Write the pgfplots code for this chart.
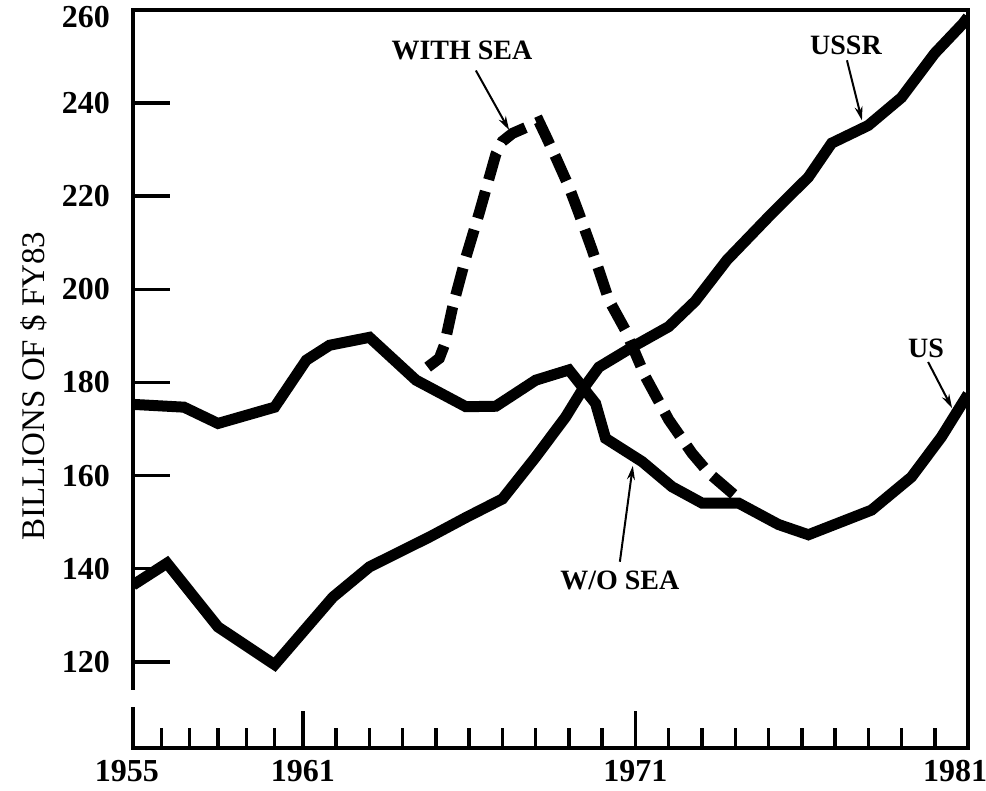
\documentclass[border=0pt]{standalone}
\usepackage{fontspec}
\setmainfont{Liberation Serif}
\usepackage{pgfplots}
\pgfplotsset{compat=1.18}
\usetikzlibrary{arrows.meta}

\newcommand{\tickfont}{\fontsize{32}{32}\selectfont\bfseries}
\newcommand{\notefont}{\fontsize{28}{28}\selectfont\bfseries}

\begin{document}
\begin{tikzpicture}
\begin{axis}[
  scale only axis, width=835pt, height=738pt,
  xmin=1955, xmax=1981, ymin=101.5, ymax=260,
  % the years before 1961 are drawn closer together in the original
  x coord trafo/.code={\pgfmathparse{#1<1961 ? 1961-(1961-#1)*0.852 : #1}},
  x coord inv trafo/.code={\pgfmathparse{#1<1961 ? 1961-(1961-#1)/0.852 : #1}},
  axis line style={line width=3.5pt},
  tick style={line width=3.5pt, black},
  tick align=inside,
  tick pos=left,
  major tick length=37pt, minor tick length=20pt,
  xtick={1955,1961,1971,1981},
  xticklabels={1955\hspace*{12pt}, 1961, 1971, 1981\hspace*{26pt}},
  minor xtick={1956,...,1980},
  ytick={120,140,...,260},
  yticklabels={120,140,160,180,200,220,240,\raisebox{-7pt}[\height][\depth]{260}},
  xticklabel style={font=\tickfont, inner sep=0pt, yshift=-12pt},
  yticklabel style={font=\tickfont, inner sep=0pt, xshift=-23pt},
]
% US, without SEA
\addplot[black, line width=11pt] coordinates {
  (1955,175.3) (1956.8,174.7) (1958,171.2) (1960,174.7) (1961.1,184.8)
  (1961.8,188) (1963,189.7) (1964.4,180.5) (1965.9,174.8) (1966.8,174.9)
  (1968,180.5) (1969,182.7) (1969.8,175.5) (1970.1,168) (1971.2,163)
  (1972.1,157.6) (1973,154.1) (1974.1,154.1) (1975.3,149.5) (1976.2,147.3)
  (1978.1,152.6) (1979.3,159.7) (1980.2,168.3) (1981,177.5)};
% USSR
\addplot[black, line width=11pt] coordinates {
  (1955,136.5) (1956.2,141.2) (1958,127.5) (1960,119.4) (1961.9,133.9)
  (1963,140.4) (1964.8,146.8) (1965.9,151) (1967,155) (1968,164)
  (1968.9,172.6) (1969.4,178.4) (1969.9,183.3) (1970.9,187.6) (1972,192)
  (1972.8,197.5) (1973.75,206.3) (1975.1,216.3) (1976.2,224.1) (1976.9,231.4)
  (1978,235.2) (1979,241.2) (1980,250.7) (1980.85,257.1) (1981,258.5)};
% US, with SEA
\addplot[black, line width=11pt, dash pattern=on 28pt off 12pt] coordinates {
  (1964.75,183.3) (1965.1,185.2) (1965.25,188) (1965.5,196.2) (1965.9,206.9)
  (1966.3,216.4) (1966.8,229) (1967.0,231.8) (1967.3,233.5) (1968.1,236)
  (1968.3,233) (1968.6,228.4) (1969.0,222) (1969.3,216.3) (1969.7,208.4)
  (1970.2,197.7) (1970.7,191.2) (1971.3,181.2) (1972.0,172) (1972.7,164.8)
  (1973.2,160.6) (1973.9,156.3) (1974.2,154.5)};

\node[font=\notefont] at (axis cs:1965.78,251.3) {WITH SEA};
\draw[line width=2pt, -{Stealth[length=14pt,width=8pt]}]
  (axis cs:1966.2,247) -- (axis cs:1967.2,234.2);
\node[font=\notefont] at (axis cs:1977.33,252.4) {USSR};
\draw[line width=2pt, -{Stealth[length=14pt,width=8pt]}]
  (axis cs:1977.36,249.2) -- (axis cs:1977.81,236.3);
\node[font=\notefont] at (axis cs:1979.74,187.4) {US};
\draw[line width=2pt, -{Stealth[length=14pt,width=8pt]}]
  (axis cs:1979.8,184.4) -- (axis cs:1980.52,174.5);
\node[font=\notefont] at (axis cs:1970.53,137.4) {W/O SEA};
\draw[line width=2pt, -{Stealth[length=14pt,width=8pt]}]
  (axis cs:1970.53,141.5) -- (axis cs:1970.92,162.1);
\end{axis}
% break in the left axis line
\fill[white] ([shift={(-4pt,41pt)}]current axis.south west)
  rectangle ([shift={(4pt,58pt)}]current axis.south west);
\node[rotate=90, font=\fontsize{33}{33}\selectfont]
  at ([shift={(-99pt,-7pt)}]current axis.west) {BILLIONS OF \$ FY83};
\pgfresetboundingbox
\useasboundingbox ([shift={(-133pt,-42pt)}]current axis.south west)
  rectangle ([shift={(18pt,10pt)}]current axis.north east);
\end{tikzpicture}
\end{document}
